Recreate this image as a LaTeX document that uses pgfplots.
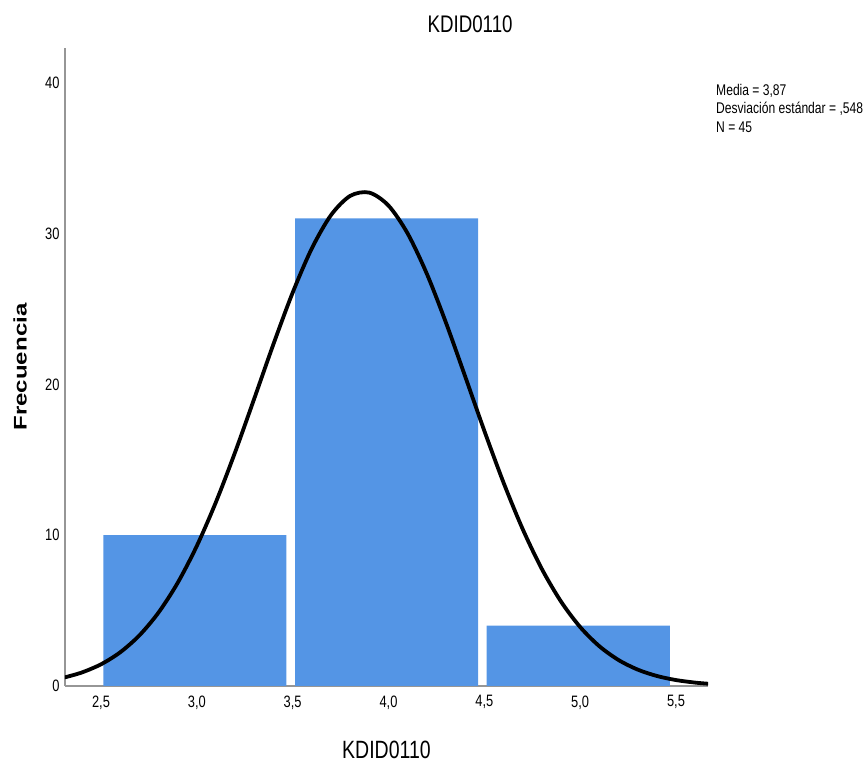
\documentclass[border=0pt]{standalone}
\usepackage{fontspec}
\setmainfont{Liberation Sans}[FakeStretch=0.78]
\newfontfamily\ylfont{Liberation Sans}
\usepackage{graphicx}
\usepackage{pgfplots}
\pgfplotsset{compat=1.18}
\definecolor{barblue}{RGB}{84,149,229}
\definecolor{axgray}{RGB}{150,150,150}
\begin{document}
\begin{tikzpicture}
\begin{axis}[
  scale only axis,
  width=643pt, height=638pt,
  xmin=2.312, xmax=5.667,
  ymin=0, ymax=42.3,
  axis x line*=bottom, axis y line*=left,
  axis line style={axgray, line width=1.2pt},
  major tick length=0pt,
  xtick={2.5,3,3.5,4,4.5,5,5.5},
  xticklabels={{2,5},{3,0},{3,5},{4,0},{4,5},{5,0},{5,5}},
  ytick={0,10,20,30,40},
  yticklabels={0,10,20,30,40},
  tick label style={font=\fontsize{16.5}{19}\selectfont, black},
  xticklabel style={yshift=-6pt},
  yticklabel style={xshift=-2pt},
  title={KDID0110},
  title style={at={(0.63,1.028)}, anchor=center, font=\fontsize{24}{28}\selectfont},
  xlabel={KDID0110},
  xlabel style={at={(0.5,-0.1)}, anchor=center, font=\fontsize{25}{30}\selectfont},
  ylabel={\scalebox{1}[0.76]{\ylfont\bfseries Frecuencia}},
  ylabel style={at={(-0.07,0.5)}, anchor=center, rotate=0, font=\fontsize{24}{28}\selectfont},
  clip=true,
]
\addplot[ybar, bar width=0.955, fill=barblue, draw=none] coordinates {(2.99,10) (3.99,31) (4.99,4)};
\addplot[black, line width=3.8pt, smooth, line cap=round] coordinates {
(2.312,0.576) (2.4,0.897) (2.5,1.439) (2.6,2.234) (2.7,3.353) (2.8,4.870) (2.9,6.840)
(3.0,9.291) (3.1,12.207) (3.2,15.515) (3.3,19.073) (3.4,22.679) (3.5,26.083)
(3.6,29.016) (3.7,31.221) (3.8,32.494) (3.9,32.711) (4.0,31.851)
(4.1,29.998) (4.2,27.328) (4.3,24.079) (4.4,20.522) (4.5,16.918) (4.6,13.489)
(4.7,10.404) (4.8,7.761) (4.9,5.600) (5.0,3.908) (5.1,2.638) (5.2,1.723)
(5.3,1.088) (5.4,0.665) (5.5,0.393) (5.6,0.2245) (5.667,0.1515)};
\end{axis}
\node[anchor=north west, align=left, inner sep=0pt, font=\fontsize{15.5}{18.5}\selectfont]
  at ([xshift=8pt,yshift=-36pt]current axis.north east)
  {Media = 3,87\\Desviación estándar = ,548\\N = 45};
\pgfresetboundingbox
\useasboundingbox ([xshift=-65pt,yshift=-76pt]current axis.south west) rectangle ([xshift=160pt,yshift=48pt]current axis.north east);
\end{tikzpicture}
\end{document}
